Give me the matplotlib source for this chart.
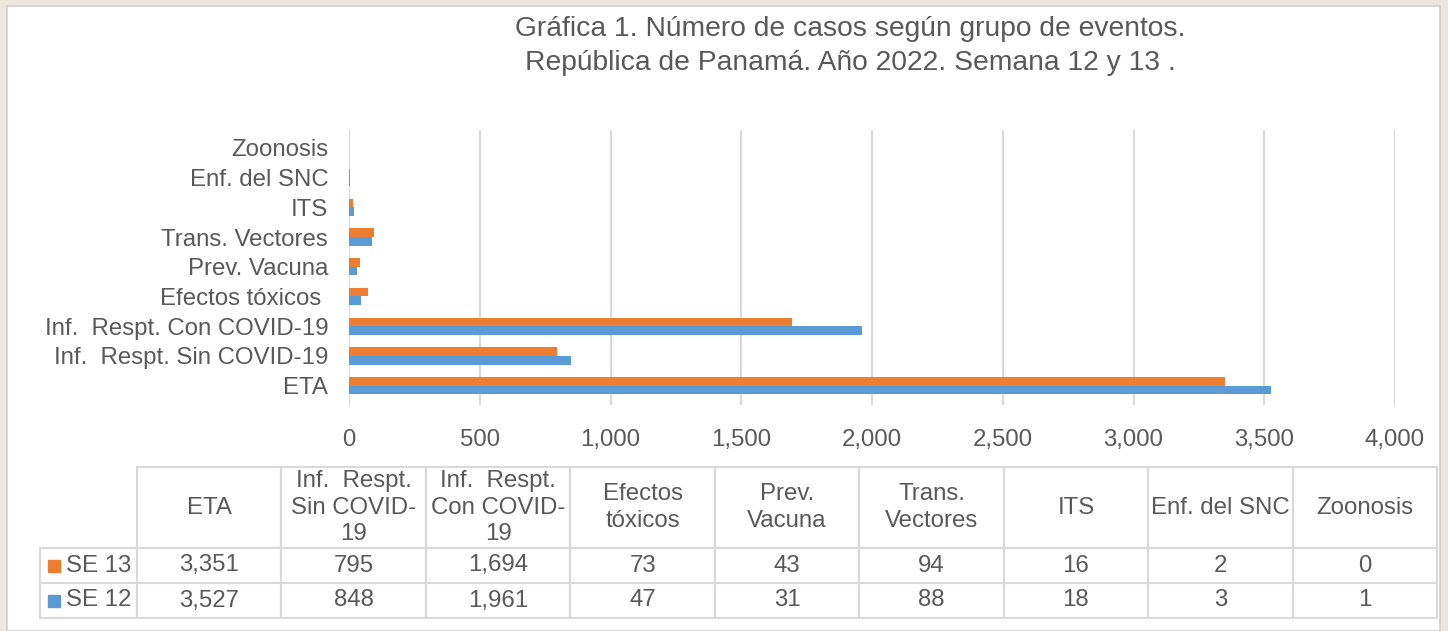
import numpy as np
import matplotlib
matplotlib.use("Agg")
import matplotlib.pyplot as plt
from matplotlib.patches import Rectangle

# --- data ---
categorias = ["ETA", "Inf.  Respt. Sin COVID-19", "Inf.  Respt. Con COVID-19",
              "Efectos tóxicos ", "Prev. Vacuna", "Trans. Vectores", "ITS",
              "Enf. del SNC", "Zoonosis"]
encabezados = ["ETA", "Inf.  Respt.\nSin COVID-\n19", "Inf.  Respt.\nCon COVID-\n19",
               "Efectos\ntóxicos", "Prev.\nVacuna", "Trans.\nVectores", "ITS",
               "Enf. del SNC", "Zoonosis"]
se13 = [3351, 795, 1694, 73, 43, 94, 16, 2, 0]
se12 = [3527, 848, 1961, 47, 31, 88, 18, 3, 1]
series = ["SE 13", "SE 12"]
xticks = [0, 500, 1000, 1500, 2000, 2500, 3000, 3500, 4000]

ORANGE = "#ED7D31"
BLUE = "#5B9BD5"
GRAY_TXT = "#595959"
GRID = "#d9d9d9"
FS = 17.3

plt.rcParams["font.family"] = ["Liberation Sans", "DejaVu Sans"]

W, H = 1448, 631
fig = plt.figure(figsize=(W / 100, H / 100), dpi=100)
fig.patch.set_facecolor("#ebe7de")

# white panel
fig.patches.append(Rectangle((7 / W, 0), 1433 / W, 1 - 6 / H, transform=fig.transFigure,
                             facecolor="white", edgecolor="#d0d0d0", lw=1.2, zorder=-5))

fig.text(850 / W, 1 - 29 / H, "Gráfica 1. Número de casos según grupo de eventos.",
         ha="center", va="center", fontsize=20.3, color=GRAY_TXT)
fig.text(850 / W, 1 - 63 / H, "República de Panamá. Año 2022. Semana 12 y 13 .",
         ha="center", va="center", fontsize=20.3, color=GRAY_TXT)

# --- bar chart ---
ax = fig.add_axes([349 / W, 1 - 405 / H, 1046 / W, 275 / H])
ax.set_facecolor("none")
y = np.arange(len(categorias))
h = 0.29
ax.barh(y + h / 2, se13, height=h, color=ORANGE, zorder=3)
ax.barh(y - h / 2, se12, height=h, color=BLUE, zorder=3)
ax.set_xlim(0, 4000)
ax.set_ylim(-0.65, 8.6)
ax.set_xticks(xticks)
ax.set_xticklabels([f"{v:,}" for v in xticks])
ax.set_yticks(y)
ax.set_yticklabels(categorias)
ax.tick_params(length=0, labelsize=FS, labelcolor=GRAY_TXT)
ax.tick_params(axis="x", pad=17)
ax.tick_params(axis="y", pad=15)
ax.grid(axis="x", color=GRID, lw=1.5, zorder=0)
for s in ax.spines.values():
    s.set_visible(False)

# --- data table ---
tx0, tx1 = 40, 1437
ty0, ty1 = 467, 618
tab_ax = fig.add_axes([tx0 / W, 1 - ty1 / H, (tx1 - tx0) / W, (ty1 - ty0) / H])
tab_ax.axis("off")

rows = [[""] + [f"{v:,}" for v in se13],
        [""] + [f"{v:,}" for v in se12]]
col_w = [97] + [144.4] * len(categorias)
tbl = tab_ax.table(cellText=rows, colLabels=[""] + encabezados, colWidths=col_w,
                   cellLoc="center", bbox=[0, 0, 1, 1])
tbl.auto_set_font_size(False)
heights = [81, 35, 35]
for (r, c), cell in tbl.get_celld().items():
    cell.set_height(heights[r])
    cell.set_edgecolor(GRID)
    cell.set_linewidth(1.5)
    t = cell.get_text()
    t.set_color(GRAY_TXT)
    t.set_fontsize(FS)
    t.set_linespacing(1.25)
    if r == 0 and c == 0:
        cell.visible_edges = ""

# row labels with colour keys
total_w = sum(col_w)
for i, (name, col) in enumerate(zip(series, [ORANGE, BLUE])):
    yc = (35 * (1 - i) + 17.5) / 151
    tab_ax.plot(14 / total_w, yc, marker="s", ms=9, color=col, transform=tab_ax.transAxes,
                clip_on=False)
    tab_ax.text(26 / total_w, yc, name, transform=tab_ax.transAxes, ha="left", va="center",
                fontsize=FS, color=GRAY_TXT)

fig.savefig("out.png", dpi=100, facecolor=fig.get_facecolor())
